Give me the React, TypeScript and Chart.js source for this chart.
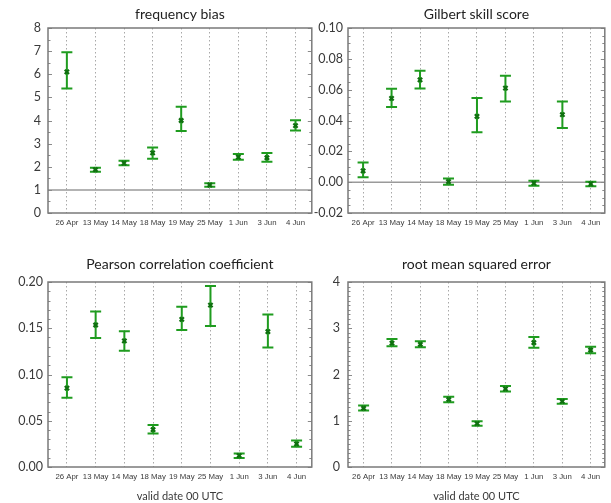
import { useEffect, useRef } from 'react';
import { Chart, registerables } from 'chart.js';
Chart.register(...registerables);

const categories = ['26 Apr', '13 May', '14 May', '18 May', '19 May', '25 May', '1 Jun', '3 Jun', '4 Jun'];

const freqBias = [6.1, 1.87, 2.16, 2.6, 4.0, 1.21, 2.42, 2.39, 3.78];
const freqBiasLow = [5.38, 1.78, 2.06, 2.35, 3.55, 1.14, 2.3, 2.22, 3.57];
const freqBiasHigh = [6.95, 1.96, 2.26, 2.83, 4.6, 1.29, 2.55, 2.6, 4.01];

const gss = [0.0073, 0.0544, 0.0664, 0.0004, 0.0427, 0.061, -0.0006, 0.0438, -0.0011];
const gssLow = [0.0032, 0.0488, 0.0608, -0.0017, 0.0324, 0.0524, -0.0024, 0.0352, -0.0026];
const gssHigh = [0.0127, 0.0606, 0.0723, 0.0024, 0.0546, 0.069, 0.0009, 0.0524, 0.0002];

const pearson = [0.0852, 0.1535, 0.1363, 0.0404, 0.1596, 0.175, 0.0122, 0.1463, 0.025];
const pearsonLow = [0.0748, 0.1395, 0.1256, 0.0361, 0.148, 0.1524, 0.0097, 0.1292, 0.0218];
const pearsonHigh = [0.097, 0.168, 0.1467, 0.0454, 0.1732, 0.1957, 0.0147, 0.165, 0.0286];

const rmse = [1.27, 2.68, 2.65, 1.46, 0.94, 1.69, 2.69, 1.42, 2.53];
const rmseLow = [1.22, 2.61, 2.59, 1.4, 0.89, 1.63, 2.58, 1.37, 2.46];
const rmseHigh = [1.33, 2.77, 2.72, 1.52, 0.99, 1.75, 2.81, 1.47, 2.6];

const BAR = '#1f9c1f';
const MARK = '#0f700f';
const FRAME = '#7a7a7a';
const TEXT = '#3a3a3a';

type Panel = {
  title: string;
  values: number[];
  low: number[];
  high: number[];
  yMin: number;
  yMax: number;
  yStep: number;
  minor: number;
  decimals: number;
  refLine: number | null;
  xMin: number;
  xMax: number;
  left: number;
  top: number;
  width: number;
  height: number;
  axisW: number;
  padRight: number;
  titleTop: number;
  titleBottom: number;
  xAxisH: number;
  xTitle: boolean;
  yPad: number;
};

const panels: Panel[] = [
  {
    title: 'frequency bias', values: freqBias, low: freqBiasLow, high: freqBiasHigh,
    yMin: 0, yMax: 8, yStep: 1, minor: 0.5, decimals: 0, refLine: 1,
    xMin: -0.66, xMax: 8.57, left: 0, top: 0, width: 318, height: 240, axisW: 48, padRight: 5,
    titleTop: 5.6, titleBottom: 5.6, xAxisH: 27, xTitle: false, yPad: 7,
  },
  {
    title: 'Gilbert skill score', values: gss, low: gssLow, high: gssHigh,
    yMin: -0.02, yMax: 0.1, yStep: 0.02, minor: 0.005, decimals: 2, refLine: 0,
    xMin: -0.53, xMax: 8.49, left: 300, top: 0, width: 311, height: 240, axisW: 48, padRight: 2,
    titleTop: 5.6, titleBottom: 5.6, xAxisH: 27, xTitle: false, yPad: 5,
  },
  {
    title: 'Pearson correlation coefficient', values: pearson, low: pearsonLow, high: pearsonHigh,
    yMin: 0, yMax: 0.2, yStep: 0.05, minor: 0.01, decimals: 2, refLine: null,
    xMin: -0.66, xMax: 8.53, left: 0, top: 240, width: 318, height: 263, axisW: 48, padRight: 6,
    titleTop: 15.6, titleBottom: 9.6, xAxisH: 36, xTitle: true, yPad: 5,
  },
  {
    title: 'root mean squared error', values: rmse, low: rmseLow, high: rmseHigh,
    yMin: 0, yMax: 4, yStep: 1, minor: 0.1, decimals: 0, refLine: null,
    xMin: -0.55, xMax: 8.5, left: 300, top: 240, width: 311, height: 263, axisW: 48, padRight: 1,
    titleTop: 15.6, titleBottom: 9.6, xAxisH: 36, xTitle: true, yPad: 8,
  },
];

const decorPlugin = {
  id: 'decor',
  beforeDatasetsDraw(chart: any, _args: any, opts: any) {
    const { ctx, chartArea, scales } = chart;
    const x = scales.x;
    const y = scales.y;
    ctx.save();
    if (opts.refLine !== null && opts.refLine !== undefined) {
      const py = y.getPixelForValue(opts.refLine);
      ctx.strokeStyle = '#9a9a9a';
      ctx.lineWidth = 1.5;
      ctx.beginPath();
      ctx.moveTo(chartArea.left, py);
      ctx.lineTo(chartArea.right, py);
      ctx.stroke();
    }
    ctx.strokeStyle = BAR;
    ctx.lineWidth = 2;
    const cap = 5.5;
    (opts.low as number[]).forEach((lo, i) => {
      const px = x.getPixelForValue(i);
      const y1 = y.getPixelForValue(lo);
      const y2 = y.getPixelForValue(opts.high[i]);
      ctx.beginPath();
      ctx.moveTo(px, y1);
      ctx.lineTo(px, y2);
      ctx.moveTo(px - cap, y1);
      ctx.lineTo(px + cap, y1);
      ctx.moveTo(px - cap, y2);
      ctx.lineTo(px + cap, y2);
      ctx.stroke();
    });
    ctx.restore();
  },
  afterDraw(chart: any, _args: any, opts: any) {
    const { ctx, chartArea, scales } = chart;
    const y = scales.y;
    ctx.save();
    ctx.strokeStyle = '#8a8a8a';
    ctx.lineWidth = 1;
    const n = Math.round((opts.yMax - opts.yMin) / opts.minor);
    const ratio = Math.round(opts.yStep / opts.minor);
    for (let k = 0; k <= n; k++) {
      const v = opts.yMin + k * opts.minor;
      const py = Math.round(y.getPixelForValue(v)) + 0.5;
      const len = k % ratio === 0 ? 4 : 2.5;
      ctx.beginPath();
      ctx.moveTo(chartArea.left, py);
      ctx.lineTo(chartArea.left + len, py);
      ctx.moveTo(chartArea.right, py);
      ctx.lineTo(chartArea.right - len, py);
      ctx.stroke();
    }
    ctx.strokeStyle = FRAME;
    ctx.lineWidth = 1.5;
    ctx.strokeRect(chartArea.left, chartArea.top, chartArea.right - chartArea.left, chartArea.bottom - chartArea.top);
    ctx.restore();
  },
};

function PanelChart({ p }: { p: Panel }) {
  const ref = useRef<HTMLCanvasElement | null>(null);
  useEffect(() => {
    if (!ref.current) return;
    const chart = new Chart(ref.current, {
      type: 'scatter',
      data: {
        datasets: [
          {
            data: p.values.map((v, i) => ({ x: i, y: v })),
            pointStyle: 'crossRot',
            pointRadius: 3,
            borderWidth: 2.2,
            borderColor: MARK,
            backgroundColor: MARK,
          },
        ],
      },
      options: {
        animation: false,
        responsive: false,
        maintainAspectRatio: false,
        layout: { padding: { left: 0, right: p.padRight, top: 0, bottom: 0 } },
        plugins: {
          legend: { display: false },
          tooltip: { enabled: false },
          title: {
            display: true,
            fullSize: false,
            text: p.title,
            color: '#222',
            font: { family: 'Lato', size: 14, weight: 'normal', lineHeight: 1.2 },
            padding: { top: p.titleTop, bottom: p.titleBottom },
          },
          decor: {
            low: p.low, high: p.high, refLine: p.refLine,
            yMin: p.yMin, yMax: p.yMax, yStep: p.yStep, minor: p.minor,
          },
        } as any,
        scales: {
          x: {
            type: 'linear',
            min: p.xMin,
            max: p.xMax,
            afterBuildTicks: (s: any) => {
              s.ticks = categories.map((_, i) => ({ value: i }));
            },
            afterFit: (s: any) => {
              s.height = p.xAxisH;
            },
            ticks: {
              autoSkip: false,
              maxRotation: 0,
              padding: 5.5,
              color: TEXT,
              font: { family: 'Liberation Sans', size: 7.8 },
              callback: (v: any) => categories[Math.round(Number(v))] ?? '',
            },
            grid: { color: '#a8a8a8', lineWidth: 1, drawTicks: false },
            border: { display: false, dash: [1.5, 2.5] },
            title: {
              display: p.xTitle,
              text: 'valid date 00 UTC',
              color: TEXT,
              font: { family: 'Lato', size: 11, lineHeight: 1.2 },
              padding: { top: 0, bottom: 0 },
            },
          },
          y: {
            type: 'linear',
            min: p.yMin,
            max: p.yMax,
            afterFit: (s: any) => {
              s.width = p.axisW;
            },
            ticks: {
              stepSize: p.yStep,
              padding: p.yPad,
              color: TEXT,
              font: { family: 'Lato', size: 12.5 },
              callback: (v: any) => Number(v).toFixed(p.decimals),
            },
            grid: { display: false, drawTicks: false },
            border: { display: false },
          },
        },
      },
      plugins: [decorPlugin as any],
    });
    return () => chart.destroy();
  }, [p]);
  return (
    <canvas
      ref={ref}
      width={p.width}
      height={p.height}
      style={{ position: 'absolute', left: p.left, top: p.top, width: p.width, height: p.height }}
    />
  );
}

export default function App() {
  useEffect(() => {
    document.body.style.margin = '0';
  }, []);
  return (
    <div style={{ position: 'relative', width: 611, height: 503, background: '#fff', overflow: 'hidden' }}>
      {panels.map((p) => (
        <PanelChart key={p.title} p={p} />
      ))}
    </div>
  );
}
